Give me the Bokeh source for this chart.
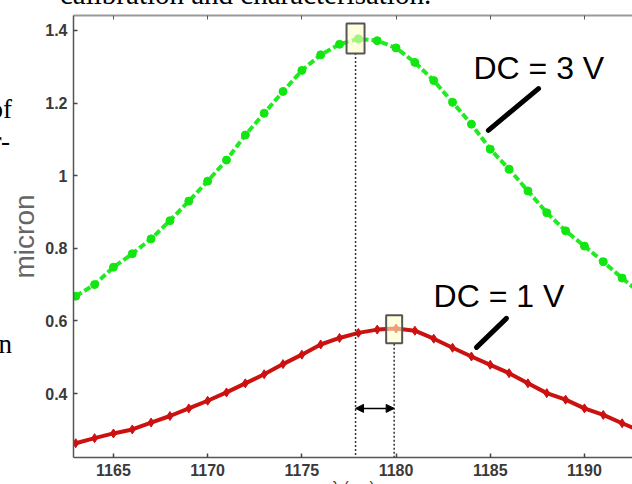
from bokeh.plotting import figure
from bokeh.models import (ColumnDataSource, FixedTicker, CustomJSTickFormatter, Label,
                          Arrow, NormalHead, LinearAxis, Range1d, Div)
from bokeh.layouts import column
from bokeh.embed import file_html
from bokeh.resources import INLINE

# ---- data ----
wavelength = [1163, 1164, 1165, 1166, 1167, 1168, 1169, 1170, 1171, 1172,
              1173, 1174, 1175, 1176, 1177, 1178, 1179, 1180, 1181, 1182,
              1183, 1184, 1185, 1186, 1187, 1188, 1189, 1190, 1191, 1192, 1193]
dc3v = [0.668, 0.700, 0.748, 0.785, 0.826, 0.876, 0.930, 0.985, 1.043, 1.112,
        1.172, 1.232, 1.290, 1.333, 1.362, 1.377, 1.372, 1.352, 1.312, 1.262,
        1.202, 1.142, 1.073, 1.018, 0.958, 0.898, 0.848, 0.806, 0.763, 0.718, 0.675]
dc1v = [0.263, 0.277, 0.290, 0.301, 0.320, 0.338, 0.359, 0.380, 0.403, 0.428,
        0.453, 0.481, 0.507, 0.535, 0.553, 0.567, 0.576, 0.579, 0.573, 0.551,
        0.526, 0.502, 0.479, 0.456, 0.428, 0.401, 0.383, 0.359, 0.341, 0.318, 0.296]
peak_wavelength = [1177.85, 1179.9]
peak_value = [1.378, 0.577]
x_ticks = [1165, 1170, 1175, 1180, 1185, 1190]
y_ticks = [0.4, 0.6, 0.8, 1.0, 1.2, 1.4]
series_labels = ["DC = 3 V", "DC = 1 V"]
y_label = "micron"
x_label = "λ (nm)"
page_caption = "calibration and characterisation."
page_fragments = ["of", "r-", "n"]

src = ColumnDataSource(dict(x=wavelength, g=dc3v, r=dc1v))

p = figure(width=632, height=484, output_backend="svg", toolbar_location=None,
           x_range=Range1d(1162.88, 1192.55), y_range=Range1d(0.2237, 1.4413),
           min_border_left=73, min_border_right=0, min_border_top=15, min_border_bottom=27,
           background_fill_color="white", border_fill_color="white")
p.outline_line_color = None
p.xgrid.visible = False
p.ygrid.visible = False

tick_font = "Liberation Sans"
for ax in (p.xaxis[0], p.yaxis[0]):
    ax.axis_line_color = "#555555"
    ax.axis_line_width = 1.5
    ax.major_tick_in = 4
    ax.major_tick_out = 0
    ax.major_tick_line_color = "#444444"
    ax.major_tick_line_width = 1.5
    ax.minor_tick_line_color = None
    ax.major_label_text_font = tick_font
    ax.major_label_text_font_size = "16px"
    ax.major_label_text_font_style = "bold"
    ax.major_label_text_color = "#3a3a3a"
p.xaxis[0].ticker = FixedTicker(ticks=x_ticks)
p.yaxis[0].ticker = FixedTicker(ticks=y_ticks)
p.xaxis[0].major_label_standoff = 6
p.yaxis[0].major_label_standoff = 6
p.yaxis[0].formatter = CustomJSTickFormatter(code="return String(Math.round(tick*10)/10);")
p.yaxis[0].axis_label = y_label
p.yaxis[0].axis_label_text_font = "Liberation Sans"
p.yaxis[0].axis_label_text_font_size = "28px"
p.yaxis[0].axis_label_text_font_style = "normal"
p.yaxis[0].axis_label_text_color = "#666666"
p.yaxis[0].axis_label_standoff = 2

top = LinearAxis(ticker=FixedTicker(ticks=x_ticks), axis_line_color="#999999", axis_line_width=2,
                 major_tick_in=4, major_tick_out=0, major_tick_line_color="#555555",
                 minor_tick_line_color=None, major_label_text_font_size="0px",
                 major_label_standoff=0)
p.add_layout(top, "above")

# curves
p.line("x", "g", source=src, line_color="#22ea22", line_width=4, line_dash="7 3")
p.scatter("x", "g", source=src, marker="circle", size=8, fill_color="#11e611", line_color="#11e611")
p.line("x", "r", source=src, line_color="#cc1111", line_width=4)
p.scatter("x", "r", source=src, marker="diamond", size=9, fill_color="#cc1111", line_color="#cc1111")

# peak markers: dotted drop lines, boxes
bottom_y = 0.2237
for xp, yp in zip(peak_wavelength, peak_value):
    p.segment(x0=[xp], y0=[yp - 0.04], x1=[xp], y1=[bottom_y], line_color="#333333",
              line_width=1.5, line_dash="2 2")
p.rect(x=peak_wavelength, y=peak_value, width=[18, 16], height=[30, 28],
       width_units="screen", height_units="screen", fill_color="#ffffc8", fill_alpha=0.6,
       line_color="#555555", line_width=2)

# double arrow between peaks
p.add_layout(Arrow(x_start=peak_wavelength[0], y_start=0.359, x_end=peak_wavelength[1], y_end=0.359,
                   start=NormalHead(size=8, fill_color="black", line_color="black"),
                   end=NormalHead(size=8, fill_color="black", line_color="black"),
                   line_color="black", line_width=1.5))

# series labels with pointer strokes
p.add_layout(Label(x=1184.11, y=1.248, text=series_labels[0], text_font="Liberation Sans",
                   text_font_size="32px", text_color="black"))
p.add_layout(Label(x=1181.99, y=0.618, text=series_labels[1], text_font="Liberation Sans",
                   text_font_size="32px", text_color="black"))
p.segment(x0=[1184.90, 1184.27], y0=[1.125, 0.527], x1=[1187.56, 1185.86], y1=[1.240, 0.607],
          line_color="black", line_width=5, line_cap="round")

# fragments of the surrounding page text, cut by the crop (overlay, outside the plot frame)
serif = "font-family:'Liberation Serif',serif;color:#000;line-height:1;white-space:nowrap;position:absolute;"
html = (
    f'<span style="{serif}font-size:29px;left:60px;top:-20px;">{page_caption}</span>'
    f'<span style="{serif}font-size:27px;left:-88px;width:100px;text-align:right;top:96px;">{page_fragments[0]}</span>'
    f'<span style="{serif}font-size:27px;left:-90px;width:100px;text-align:right;top:128px;">{page_fragments[1]}</span>'
    f'<span style="{serif}font-size:27px;left:-88px;width:100px;text-align:right;top:331px;">{page_fragments[2]}</span>'
    f'<span style="position:absolute;left:332px;top:479px;font-family:\'Liberation Sans\';font-size:15px;'
    f'color:#333;line-height:1;white-space:nowrap;">{x_label}</span>'
)
overlay = Div(text=html, width=632, height=484,
              styles={"position": "absolute", "left": "0px", "top": "0px", "width": "632px",
                      "height": "484px", "overflow": "hidden", "pointer-events": "none",
                      "z-index": "10", "margin": "0px"})

layout = column(p, overlay, spacing=0)
open("out.html", "w").write(file_html(layout, INLINE))
